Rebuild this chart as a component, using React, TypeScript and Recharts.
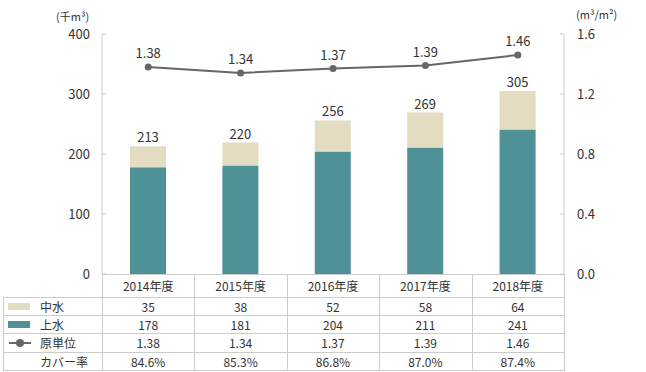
import { ComposedChart, Bar, Line, XAxis, YAxis, LabelList } from "recharts";

const years = ["2014年度", "2015年度", "2016年度", "2017年度", "2018年度"];
const chusui = [35, 38, 52, 58, 64];
const josui = [178, 181, 204, 211, 241];
const totals = [213, 220, 256, 269, 305];
const genTani = [1.38, 1.34, 1.37, 1.39, 1.46];
const coverRate = ["84.6%", "85.3%", "86.8%", "87.0%", "87.4%"];
const leftTicks = [0, 100, 200, 300, 400];
const rightTicks = [0, 0.4, 0.8, 1.2, 1.6];

const BEIGE = "#e3dcc0";
const TEAL = "#4e9196";
const LINE = "#666666";
const GRID = "#cccccc";
const TEXT = "#333333";
const FONT = "'Noto Sans CJK JP', 'Noto Sans', sans-serif";

const data = years.map((y, i) => ({
  year: y,
  chusui: chusui[i],
  josui: josui[i],
  total: totals[i],
  genTani: genTani[i],
}));

// table grid
const TABLE_LEFT = 3;
const PLOT_LEFT = 102;
const PLOT_RIGHT = 564;
const ROW_Y = [274, 297, 315, 333, 352, 370];
const COL_W = (PLOT_RIGHT - PLOT_LEFT) / years.length;

const rows: { icon: string; label: string; values: (string | number)[] }[] = [
  { icon: "beige", label: "中水", values: chusui },
  { icon: "teal", label: "上水", values: josui },
  { icon: "line", label: "原単位", values: genTani.map((v) => v.toFixed(2)) },
  { icon: "none", label: "カバー率", values: coverRate },
];

function LegendIcon({ kind }: { kind: string }) {
  if (kind === "line") {
    return (
      <svg width={24} height={10} style={{ display: "block" }}>
        <line x1={1} y1={5} x2={23} y2={5} stroke={LINE} strokeWidth={2} />
        <circle cx={12} cy={5} r={4} fill={LINE} />
      </svg>
    );
  }
  if (kind === "none") return <span style={{ display: "block", width: 24 }} />;
  return (
    <span
      style={{
        display: "block",
        width: 22,
        height: 7,
        marginRight: 2,
        background: kind === "beige" ? BEIGE : TEAL,
      }}
    />
  );
}

function Cell({ x, y, w, h, children, align = "center" }: any) {
  return (
    <div
      style={{
        position: "absolute",
        left: x,
        top: y,
        width: w,
        height: h,
        display: "flex",
        alignItems: "center",
        justifyContent: align === "center" ? "center" : "flex-start",
        fontSize: 12,
        lineHeight: "14px",
        color: TEXT,
        whiteSpace: "nowrap",
      }}
    >
      {children}
    </div>
  );
}

function DataTable() {
  const lines: React.ReactNode[] = [];
  // horizontal rules
  ROW_Y.forEach((y, i) => {
    const x0 = i === 0 ? PLOT_LEFT : TABLE_LEFT;
    lines.push(
      <div key={`h${i}`} style={{ position: "absolute", left: x0, top: y, width: PLOT_RIGHT - x0 + 1, height: 1, background: GRID }} />
    );
  });
  // vertical rules
  lines.push(
    <div key="v0" style={{ position: "absolute", left: TABLE_LEFT, top: ROW_Y[1], width: 1, height: ROW_Y[5] - ROW_Y[1] + 1, background: GRID }} />
  );
  for (let c = 0; c <= years.length; c++) {
    lines.push(
      <div key={`v${c + 1}`} style={{ position: "absolute", left: Math.round(PLOT_LEFT + c * COL_W), top: ROW_Y[0], width: 1, height: ROW_Y[5] - ROW_Y[0] + 1, background: GRID }} />
    );
  }
  const cells: React.ReactNode[] = [];
  years.forEach((y, c) => {
    cells.push(
      <Cell key={`yr${c}`} x={PLOT_LEFT + c * COL_W} y={ROW_Y[0] + 1} w={COL_W} h={ROW_Y[1] - ROW_Y[0] - 1}>
        {y}
      </Cell>
    );
  });
  rows.forEach((r, ri) => {
    const top = ROW_Y[ri + 1] + 1;
    const h = ROW_Y[ri + 2] - ROW_Y[ri + 1] - 1;
    cells.push(
      <Cell key={`lb${ri}`} x={TABLE_LEFT + 5} y={top} w={PLOT_LEFT - TABLE_LEFT - 5} h={h} align="left">
        <LegendIcon kind={r.icon} />
        <span style={{ marginLeft: 8 }}>{r.label}</span>
      </Cell>
    );
    r.values.forEach((v, c) => {
      cells.push(
        <Cell key={`c${ri}-${c}`} x={PLOT_LEFT + c * COL_W} y={top} w={COL_W} h={h}>
          {v}
        </Cell>
      );
    });
  });
  return (
    <>
      {lines}
      {cells}
    </>
  );
}

export default function App() {
  return (
    <div
      style={{
        position: "absolute",
        left: 0,
        top: 0,
        width: 646,
        height: 372,
        background: "#fff",
        fontFamily: FONT,
        color: TEXT,
      }}
    >
      <div style={{ position: "absolute", left: 56, top: 10, fontSize: 11, lineHeight: "12px" }}>(千m³)</div>
      <div style={{ position: "absolute", left: 576, top: 8, fontSize: 11, lineHeight: "12px" }}>(m³/m²)</div>
      <ComposedChart
        width={646}
        height={292}
        data={data}
        margin={{ top: 34, right: 0, bottom: 18, left: 0 }}
        barCategoryGap={0}
      >
        <XAxis dataKey="year" hide />
        <YAxis
          yAxisId="left"
          width={102}
          domain={[0, 400]}
          ticks={leftTicks}
          interval={0}
          axisLine={{ stroke: GRID }}
          tickLine={{ stroke: GRID }}
          tickSize={-4}
          tickMargin={16}
          tick={{ fontSize: 13, fill: TEXT, fontFamily: FONT }}
        />
        <YAxis
          yAxisId="right"
          orientation="right"
          width={82}
          domain={[0, 1.6]}
          ticks={rightTicks}
          interval={0}
          tickFormatter={(v: number) => v.toFixed(1)}
          axisLine={{ stroke: GRID }}
          tickLine={{ stroke: GRID }}
          tickSize={-4}
          tickMargin={17}
          tick={{ fontSize: 13, fill: TEXT, fontFamily: FONT, textAnchor: "start" }}
        />
        <Bar yAxisId="left" dataKey="josui" stackId="a" fill={TEAL} barSize={36} isAnimationActive={false} />
        <Bar yAxisId="left" dataKey="chusui" stackId="a" fill={BEIGE} barSize={36} isAnimationActive={false}>
          <LabelList
            dataKey="total"
            position="top"
            offset={4}
            style={{ fontSize: 13, fill: TEXT, fontFamily: FONT }}
          />
        </Bar>
        <Line
          yAxisId="right"
          dataKey="genTani"
          stroke={LINE}
          strokeWidth={2}
          dot={{ r: 3.5, fill: LINE, stroke: LINE, strokeWidth: 0 }}
          isAnimationActive={false}
        >
          <LabelList
            dataKey="genTani"
            position="top"
            offset={9}
            formatter={(v: any) => Number(v).toFixed(2)}
            style={{ fontSize: 13, fill: TEXT, fontFamily: FONT }}
          />
        </Line>
      </ComposedChart>
      <DataTable />
    </div>
  );
}
